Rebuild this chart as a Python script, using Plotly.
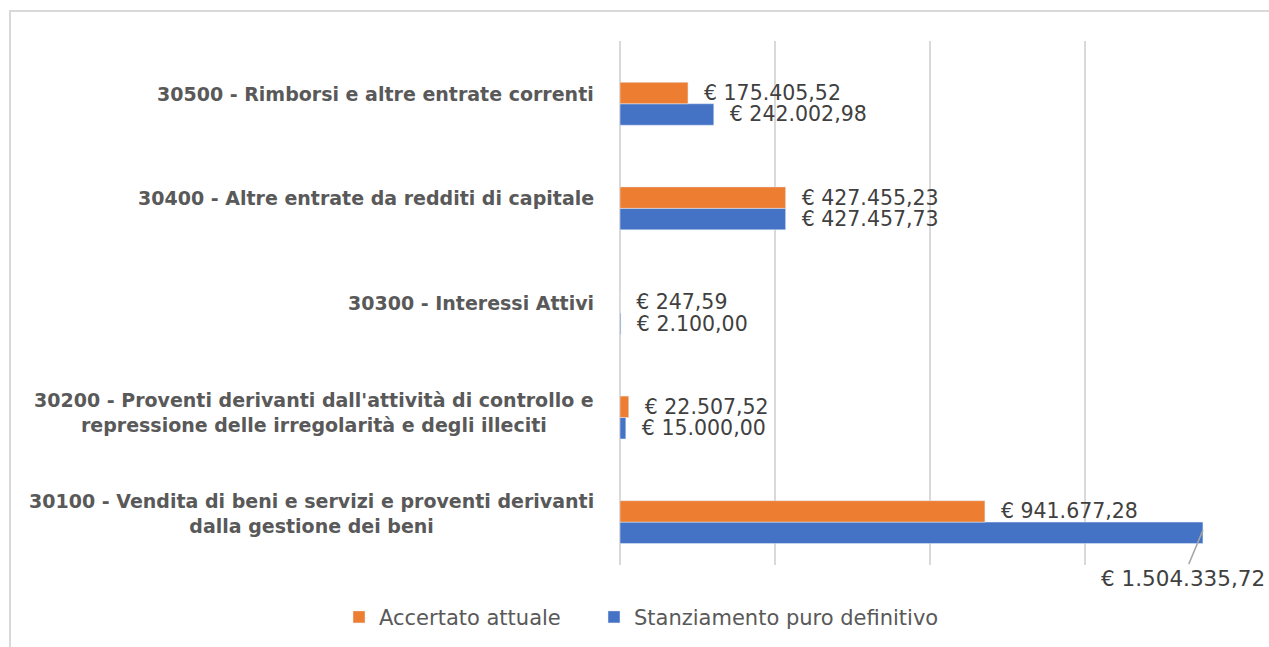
import plotly.graph_objects as go

categories = [
    "30100 - Vendita di beni e servizi e proventi derivanti<br>dalla gestione dei beni",
    "30200 - Proventi derivanti dall'attività di controllo e<br>repressione delle irregolarità e degli illeciti",
    "30300 - Interessi Attivi",
    "30400 - Altre entrate da redditi di capitale",
    "30500 - Rimborsi e altre entrate correnti",
]
cat_keys = ["c30100", "c30200", "c30300", "c30400", "c30500"]
accertato = [941677.28, 22507.52, 247.59, 427455.23, 175405.52]
stanziamento = [1504335.72, 15000.00, 2100.00, 427457.73, 242002.98]
series_names = ["Accertato attuale", "Stanziamento puro definitivo"]


def eur_plain(v):
    s = f"{v:,.2f}".replace(",", "X").replace(".", ",").replace("X", ".")
    return "€ " + s


def eur(v):
    return "\u00a0\u00a0" + eur_plain(v)


ORANGE = "#ED7D31"
BLUE = "#4472C4"
TXT = "#404040"
LAB = "#595959"
GRID = "#D9D9D9"
FONT = "DejaVu Sans"
VAL_SIZE = 20.5

fig = go.Figure()

blue_pos = ["none" if v == max(stanziamento) else "outside" for v in stanziamento]

fig.add_trace(go.Bar(
    y=cat_keys, x=stanziamento, orientation="h", name=series_names[1],
    marker_color=BLUE, text=[eur(v) for v in stanziamento],
    textposition=blue_pos, cliponaxis=False, legend="legend2",
    constraintext="none",
    textfont=dict(family=FONT, size=VAL_SIZE, color=TXT),
))
fig.add_trace(go.Bar(
    y=cat_keys, x=accertato, orientation="h", name=series_names[0],
    marker_color=ORANGE, text=[eur(v) for v in accertato],
    textposition="outside", cliponaxis=False, legend="legend",
    constraintext="none",
    textfont=dict(family=FONT, size=VAL_SIZE, color=TXT),
))

label_shift = {"c30100": 9, "c30200": 5, "c30300": 10, "c30400": 10, "c30500": 10}
annotations = []
for key, lab in zip(cat_keys, categories):
    annotations.append(dict(
        x=0, xref="paper", y=key, yref="y", xanchor="right", yanchor="middle",
        xshift=-24, yshift=label_shift[key], align="center", showarrow=False,
        text="<b>" + lab + "</b>",
        font=dict(family=FONT, size=19, color=LAB),
    ))

# label for the longest bar (placed below, with leader line)
imax = stanziamento.index(max(stanziamento))
annotations.append(dict(
    x=stanziamento[imax], y=cat_keys[imax], xref="x", yref="y",
    yshift=-8, text=eur_plain(stanziamento[imax]), showarrow=True,
    arrowhead=0, arrowwidth=1.5, arrowcolor="#A6A6A6", ax=-20, ay=48,
    font=dict(family=FONT, size=21.5, color=TXT),
))

legend_common = dict(
    orientation="h", xref="container", yref="container",
    y=0.046, xanchor="left", yanchor="middle",
    font=dict(family=FONT, size=21, color=LAB), bgcolor="rgba(0,0,0,0)",
)

fig.update_layout(
    width=1269, height=647,
    margin=dict(l=620, r=29, t=41, b=82),
    paper_bgcolor="white", plot_bgcolor="white",
    barmode="group", bargap=0.59, bargroupgap=0,
    font=dict(family=FONT, color=TXT),
    showlegend=True,
    legend=dict(x=(360 - 21) / 1269, **legend_common),
    legend2=dict(x=(615 - 21) / 1269, **legend_common),
    annotations=annotations,
    shapes=[dict(
        type="rect", xref="paper", yref="paper",
        x0=(10 - 620) / 620, x1=(1290 - 620) / 620,
        y0=(565 - 680) / 524, y1=(565 - 11) / 524,
        line=dict(color=GRID, width=2), fillcolor="rgba(0,0,0,0)", layer="below",
    )],
)
fig.update_xaxes(
    range=[0, 1600000], dtick=400000, tick0=0, showticklabels=False,
    showgrid=True, gridcolor=GRID, gridwidth=2,
    zeroline=True, zerolinecolor=GRID, zerolinewidth=2, fixedrange=True,
)
fig.update_yaxes(
    type="category", range=[-0.41, 4.6], showticklabels=False, showgrid=False,
    categoryorder="array", categoryarray=cat_keys, fixedrange=True,
)

fig.write_html("out.html", config={"displayModeBar": False},
               post_script="document.body.style.margin='0px';")
